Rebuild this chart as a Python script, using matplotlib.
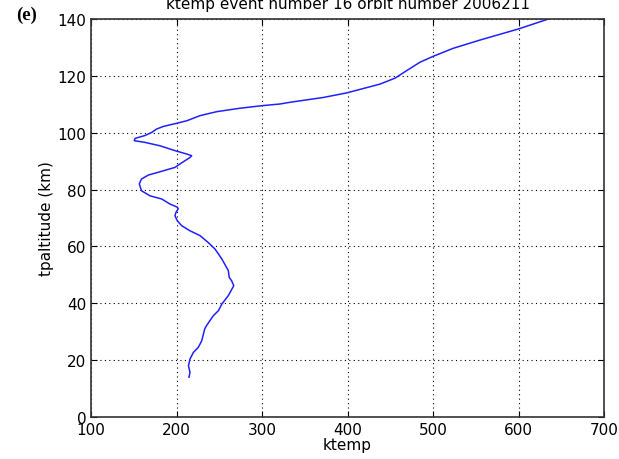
import matplotlib
matplotlib.use("Agg")
import matplotlib.pyplot as plt

ktemp = [214.6, 215.8, 214.0, 215.8, 219.7, 225.5, 229.5, 233.0, 235.0, 243.0, 249.0,
         253.0, 260.6, 267.0, 264.5, 261.7, 260.6, 253.0, 245.0, 237.0, 227.5, 215.8,
         206.0, 201.0, 198.2, 199.4, 202.0, 201.0, 192.4, 182.6, 169.0, 159.0, 156.5,
         159.0, 167.0, 184.6, 198.2, 204.0, 215.8, 217.8, 212.0, 198.2, 180.7, 163.0,
         150.6, 151.5, 163.0, 171.0, 176.8, 184.6, 200.0, 212.0, 227.5, 247.0, 274.0,
         299.6, 321.0, 332.7, 371.7, 399.0, 438.0, 455.6, 469.0, 484.8, 500.4, 523.7,
         555.0, 600.0, 635.0]
tpaltitude = [14.0, 15.7, 18.0, 20.4, 22.7, 24.5, 26.8, 31.0, 32.1, 35.6, 37.4,
              39.7, 42.7, 46.2, 47.9, 49.1, 51.5, 55.6, 59.1, 61.4, 63.8, 65.5,
              67.3, 69.0, 70.8, 72.0, 73.2, 73.8, 74.9, 76.7, 77.8, 79.6, 82.0,
              83.7, 85.1, 86.6, 87.8, 89.0, 91.3, 91.9, 92.5, 93.7, 95.4, 96.6,
              97.2, 98.0, 99.0, 100.1, 101.3, 102.2, 103.3, 104.2, 106.0, 107.4, 108.6,
              109.5, 110.1, 110.7, 112.4, 114.0, 117.1, 119.2, 121.8, 124.8, 126.9, 129.7,
              132.6, 136.5, 140.0]
xticks = [100, 200, 300, 400, 500, 600, 700]
yticks = [0, 20, 40, 60, 80, 100, 120, 140]

fig = plt.figure(figsize=(6.19, 4.60), dpi=100)
ax = fig.add_axes([91/619, 1-418/460, (604-91)/619, (418-20)/460])
ax.plot(ktemp, tpaltitude, color="#2020ff", linewidth=1.1)
ax.set_xlim(100, 700)
ax.set_ylim(0, 140)
ax.set_xticks(xticks)
ax.set_yticks(yticks)
ax.tick_params(direction="in", labelsize=11, length=4, top=True, right=True)
ax.grid(True, color="black", linestyle=(0, (1, 3)), linewidth=0.8)
for s in ax.spines.values():
    s.set_linewidth(1.2)
    s.set_color("#333333")
ax.set_xlabel("ktemp", fontsize=11, labelpad=0)
ax.set_ylabel("tpaltitude (km)", fontsize=11, labelpad=2)
ax.set_title("ktemp event number 16 orbit number 2006211", fontsize=11, pad=8)
fig.text(16/619, 1-15/460, "(e)", fontsize=13.5, fontweight="bold",
         family="Liberation Serif", ha="left", va="center")
fig.savefig("out.png", dpi=100)
